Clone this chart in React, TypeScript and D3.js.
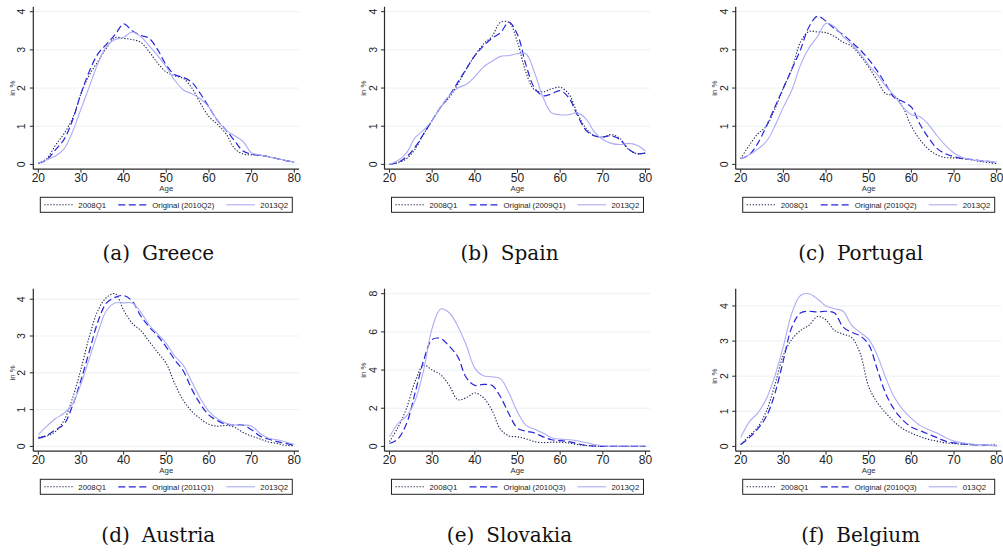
import React from 'react';
import * as d3 from 'd3';

// age grid shared by all panels
const ages = [20, 22, 24, 26, 28, 30, 32, 34, 36, 38, 40, 42, 44, 46, 48, 50, 52, 54, 56, 58, 60, 62, 64, 66, 68, 70, 72, 74, 76, 78, 80];

// (a) Greece
const greece08 = [0.03, 0.15, 0.5, 0.8, 1.2, 1.85, 2.35, 2.7, 3.05, 3.32, 3.3, 3.27, 3.2, 2.95, 2.65, 2.42, 2.32, 2.25, 2.0, 1.6, 1.25, 1.05, 0.8, 0.42, 0.27, 0.25, 0.24, 0.2, 0.15, 0.1, 0.05];
const greeceOrig = [0.03, 0.12, 0.38, 0.65, 1.15, 1.85, 2.45, 2.9, 3.15, 3.4, 3.68, 3.5, 3.38, 3.3, 3.0, 2.6, 2.35, 2.28, 2.15, 1.85, 1.5, 1.15, 0.9, 0.62, 0.35, 0.27, 0.24, 0.2, 0.15, 0.1, 0.06];
const greece13 = [0.03, 0.12, 0.22, 0.4, 0.85, 1.45, 2.05, 2.65, 3.1, 3.27, 3.33, 3.47, 3.35, 3.1, 2.85, 2.55, 2.2, 1.95, 1.85, 1.72, 1.5, 1.15, 0.9, 0.75, 0.6, 0.3, 0.25, 0.2, 0.15, 0.1, 0.06];

// (b) Spain
const spain08 = [0.0, 0.05, 0.15, 0.4, 0.8, 1.15, 1.5, 1.75, 2.1, 2.5, 2.85, 3.15, 3.35, 3.72, 3.72, 3.2, 2.4, 1.95, 1.9, 1.98, 2.02, 1.85, 1.35, 0.95, 0.75, 0.72, 0.78, 0.68, 0.4, 0.28, 0.3];
const spainOrig = [0.0, 0.05, 0.2, 0.45, 0.8, 1.15, 1.5, 1.8, 2.15, 2.5, 2.85, 3.1, 3.3, 3.45, 3.72, 3.4, 2.6, 2.0, 1.8, 1.85, 1.93, 1.75, 1.3, 0.9, 0.75, 0.72, 0.75, 0.65, 0.4, 0.28, 0.3];
const spain13 = [0.0, 0.1, 0.3, 0.7, 0.9, 1.15, 1.5, 1.8, 2.0, 2.1, 2.3, 2.55, 2.7, 2.83, 2.85, 2.9, 2.9, 2.4, 1.75, 1.35, 1.3, 1.3, 1.35, 1.2, 0.85, 0.65, 0.55, 0.52, 0.55, 0.5, 0.35];

// (c) Portugal
const portugal08 = [0.15, 0.5, 0.8, 1.0, 1.45, 2.0, 2.5, 3.2, 3.48, 3.47, 3.45, 3.35, 3.2, 3.1, 2.85, 2.55, 2.2, 1.85, 1.8, 1.5, 1.0, 0.65, 0.4, 0.25, 0.18, 0.17, 0.15, 0.12, 0.08, 0.05, 0.02];
const portugalOrig = [0.15, 0.25, 0.55, 1.0, 1.5, 2.0, 2.5, 3.0, 3.6, 3.88, 3.75, 3.55, 3.4, 3.2, 3.0, 2.75, 2.45, 2.1, 1.75, 1.65, 1.5, 1.05, 0.7, 0.42, 0.28, 0.2, 0.15, 0.13, 0.1, 0.08, 0.05];
const portugal13 = [0.15, 0.25, 0.4, 0.6, 1.0, 1.5, 1.95, 2.6, 3.05, 3.35, 3.7, 3.6, 3.35, 3.15, 2.9, 2.6, 2.35, 2.05, 1.8, 1.5, 1.3, 1.25, 1.05, 0.75, 0.5, 0.3, 0.18, 0.12, 0.1, 0.08, 0.06];

// (d) Austria
const austria08 = [0.25, 0.28, 0.4, 0.7, 1.3, 2.1, 3.0, 3.7, 4.05, 4.15, 3.7, 3.35, 3.15, 2.85, 2.55, 2.25, 1.7, 1.25, 0.95, 0.75, 0.6, 0.55, 0.57, 0.52, 0.38, 0.28, 0.2, 0.12, 0.08, 0.03, 0.02];
const austriaOrig = [0.22, 0.3, 0.45, 0.6, 1.1, 1.8, 2.6, 3.4, 3.9, 4.05, 4.1, 3.95, 3.55, 3.25, 3.0, 2.7, 2.35, 2.05, 1.55, 1.15, 0.85, 0.7, 0.6, 0.58, 0.58, 0.45, 0.28, 0.2, 0.13, 0.08, 0.03];
const austria13 = [0.32, 0.55, 0.75, 0.9, 1.15, 1.7, 2.4, 3.1, 3.7, 3.9, 3.9, 3.9, 3.65, 3.3, 3.05, 2.8, 2.45, 2.2, 1.75, 1.3, 0.95, 0.75, 0.63, 0.58, 0.58, 0.55, 0.35, 0.22, 0.18, 0.12, 0.05];

// (e) Slovakia
const slovakia08 = [0.25, 1.0, 2.0, 3.4, 4.25, 4.0, 3.75, 3.2, 2.45, 2.55, 2.8, 2.55, 1.9, 0.9, 0.55, 0.5, 0.4, 0.25, 0.2, 0.22, 0.22, 0.18, 0.1, 0.05, 0.02, 0.01, 0.0, 0.0, 0.0, 0.0, 0.0];
const slovakiaOrig = [0.15, 0.4, 1.2, 2.8, 4.5, 5.6, 5.65, 5.25, 4.7, 3.6, 3.2, 3.25, 3.2, 2.6, 1.7, 0.95, 0.8, 0.7, 0.5, 0.35, 0.3, 0.25, 0.15, 0.05, 0.02, 0.0, 0.0, 0.0, 0.0, 0.0, 0.0];
const slovakia13 = [0.5, 1.2, 1.6, 2.4, 4.0, 6.2, 7.2, 7.0, 6.3, 5.3, 4.1, 3.7, 3.65, 3.55, 2.8, 1.8, 1.1, 0.9, 0.7, 0.45, 0.38, 0.35, 0.3, 0.2, 0.1, 0.03, 0.02, 0.02, 0.02, 0.02, 0.02];

// (f) Belgium
const belgium08 = [0.05, 0.3, 0.55, 1.0, 1.75, 2.6, 3.05, 3.3, 3.45, 3.7, 3.6, 3.3, 3.2, 3.1, 2.65, 1.7, 1.25, 0.95, 0.7, 0.5, 0.38, 0.28, 0.2, 0.15, 0.1, 0.08, 0.06, 0.05, 0.05, 0.04, 0.05];
const belgiumOrig = [0.05, 0.25, 0.5, 0.85, 1.5, 2.45, 3.4, 3.8, 3.85, 3.83, 3.85, 3.8, 3.4, 3.25, 3.15, 2.9, 2.2, 1.5, 1.05, 0.75, 0.55, 0.45, 0.35, 0.25, 0.15, 0.1, 0.07, 0.05, 0.04, 0.03, 0.02];
const belgium13 = [0.25, 0.7, 0.95, 1.35, 2.0, 2.85, 3.8, 4.3, 4.35, 4.2, 4.0, 3.92, 3.85, 3.45, 3.25, 3.05, 2.6, 1.95, 1.4, 1.05, 0.8, 0.6, 0.48, 0.38, 0.25, 0.15, 0.1, 0.07, 0.05, 0.03, 0.03];

const xTicks = [20, 30, 40, 50, 60, 70, 80];
const yTicksSmall = [0, 1, 2, 3, 4];
const yTicksLarge = [0, 2, 4, 6, 8];

const panels = [
  { label: '(a)', name: 'Greece', orig: 'Original (2010Q2)', last: '2013Q2', yTicks: yTicksSmall, series: [greece08, greeceOrig, greece13] },
  { label: '(b)', name: 'Spain', orig: 'Original (2009Q1)', last: '2013Q2', yTicks: yTicksSmall, series: [spain08, spainOrig, spain13] },
  { label: '(c)', name: 'Portugal', orig: 'Original (2010Q2)', last: '2013Q2', yTicks: yTicksSmall, series: [portugal08, portugalOrig, portugal13] },
  { label: '(d)', name: 'Austria', orig: 'Original (2011Q1)', last: '2013Q2', yTicks: yTicksSmall, series: [austria08, austriaOrig, austria13] },
  { label: '(e)', name: 'Slovakia', orig: 'Original (2010Q3)', last: '2013Q2', yTicks: yTicksLarge, series: [slovakia08, slovakiaOrig, slovakia13] },
  { label: '(f)', name: 'Belgium', orig: 'Original (2010Q3)', last: '013Q2', yTicks: yTicksSmall, series: [belgium08, belgiumOrig, belgium13] },
];

const styles = [
  { stroke: '#23234f', dash: '1.3 1.7', width: 1.1 },
  { stroke: '#2525dc', dash: '7 3.5', width: 1.2 },
  { stroke: '#acacf6', dash: null, width: 1.1 },
];

const sans = '"Liberation Sans", Arial, sans-serif';
const W = 265.7;
const H = 162.5;

function Panel({ p, col, row }: { p: typeof panels[number]; col: number; row: number }) {
  const x0 = 33.3 + 351.2 * col;
  const y0 = 6.7 + 282 * row;
  const top = p.yTicks[p.yTicks.length - 1];
  const dataMax = d3.max(p.series.flat()) || top;
  const x = d3.scaleLinear().domain([20, 80]).range([5, 261]);
  const y = d3.scaleLinear().domain([0, Math.max(top, dataMax)]).range([157.7, 5]);
  const line = d3
    .line<number>()
    .x((_, i) => x(ages[i]))
    .y((d) => y(d))
    .curve(d3.curveCatmullRom.alpha(0.5));
  const legendNames = ['2008Q1', p.orig, p.last];
  const keyX = [4, 78, 186];

  return (
    <g transform={`translate(${x0},${y0})`}>
      {p.yTicks.map((t) => (
        <line key={'g' + t} x1={0} x2={W} y1={y(t)} y2={y(t)} stroke="#e6eff1" strokeWidth={0.9} />
      ))}
      {p.series.map((s, i) => (
        <path
          key={i}
          d={line(s) || ''}
          fill="none"
          stroke={styles[i].stroke}
          strokeWidth={styles[i].width}
          strokeDasharray={styles[i].dash || undefined}
        />
      ))}
      <line x1={0} x2={0} y1={0} y2={H} stroke="#2a2a2a" strokeWidth={1.2} />
      <line x1={0} x2={W} y1={H} y2={H} stroke="#2a2a2a" strokeWidth={1.2} />
      {p.yTicks.map((t) => (
        <g key={'y' + t}>
          <line x1={-3.5} x2={0} y1={y(t)} y2={y(t)} stroke="#2a2a2a" strokeWidth={1} />
          <text
            transform={`translate(-8,${y(t)}) rotate(-90)`}
            textAnchor="middle"
            fontFamily={sans}
            fontSize={10.5}
            fill="#222"
          >
            {t}
          </text>
        </g>
      ))}
      {xTicks.map((t) => (
        <g key={'x' + t}>
          <line x1={x(t)} x2={x(t)} y1={H} y2={H + 3.5} stroke="#2a2a2a" strokeWidth={1} />
          <text x={x(t)} y={H + 13.2} textAnchor="middle" fontFamily={sans} fontSize={12} fill="#222">
            {t}
          </text>
        </g>
      ))}
      <text transform={`translate(-18.5,${(y(0) + y(top)) / 2}) rotate(-90)`} textAnchor="middle" fontFamily={sans} fontSize={7.8} fill="#333">
        in %
      </text>
      <text x={x(50)} y={H + 22.2} textAnchor="middle" fontFamily={sans} fontSize={7.8} fill="#333">
        Age
      </text>
      <g transform="translate(7,190.6)">
        <rect x={0} y={0} width={252} height={15} fill="white" stroke="#222" strokeWidth={1} />
        {legendNames.map((n, i) => (
          <g key={n + i}>
            <line
              x1={keyX[i]}
              x2={keyX[i] + 28.5}
              y1={7.5}
              y2={7.5}
              stroke={styles[i].stroke}
              strokeWidth={styles[i].width}
              strokeDasharray={styles[i].dash || undefined}
            />
            <text x={keyX[i] + 34} y={10.3} fontFamily={sans} fontSize={7.8} fill="#222">
              {n}
            </text>
          </g>
        ))}
      </g>
      <text x={125} y={253} textAnchor="middle" fontFamily='"DejaVu Serif", serif' fontSize={20} fill="#111">
        {p.label}
        <tspan dx={12}>{p.name}</tspan>
      </text>
    </g>
  );
}

export default function App() {
  return (
    <svg
      width={1003}
      height={552}
      style={{ position: 'absolute', left: 0, top: 0, background: 'white' }}
    >
      <rect width={1003} height={552} fill="white" />
      {panels.map((p, i) => (
        <Panel key={p.name} p={p} col={i % 3} row={Math.floor(i / 3)} />
      ))}
    </svg>
  );
}
